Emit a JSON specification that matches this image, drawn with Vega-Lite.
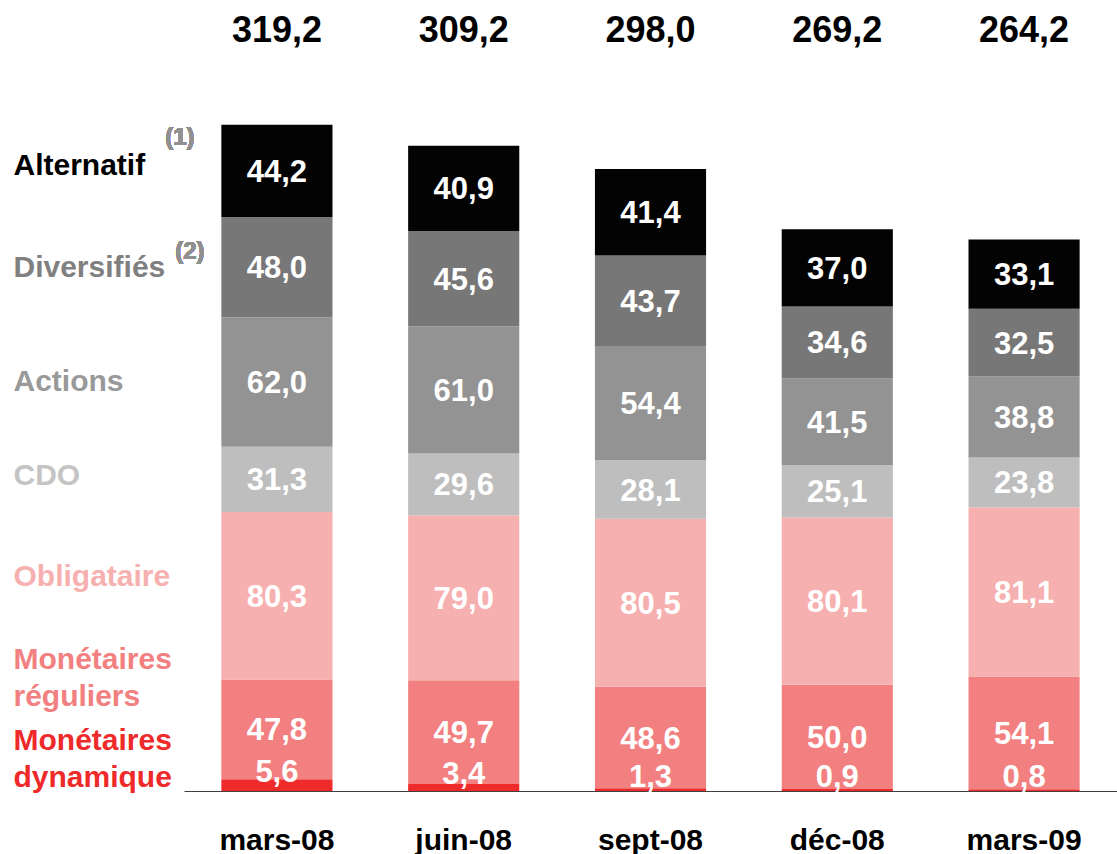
{
  "$schema": "https://vega.github.io/schema/vega-lite/v6.json",
  "width": 933,
  "height": 791,
  "autosize": {"type": "none"},
  "padding": {"left": 184, "top": 0, "right": 0, "bottom": 63},
  "config": {
    "font": "Liberation Sans",
    "view": {"stroke": null},
    "locale": {"number": {"decimal": ",", "thousands": ".", "grouping": [3], "currency": ["", " €"]}}
  },
  "data": {
    "values": [
      {"mois": "mars-08", "cat": "Monétaires dynamique", "v": 5.6},
      {"mois": "mars-08", "cat": "Monétaires réguliers", "v": 47.8},
      {"mois": "mars-08", "cat": "Obligataire", "v": 80.3},
      {"mois": "mars-08", "cat": "CDO", "v": 31.3},
      {"mois": "mars-08", "cat": "Actions", "v": 62.0},
      {"mois": "mars-08", "cat": "Diversifiés", "v": 48.0},
      {"mois": "mars-08", "cat": "Alternatif", "v": 44.2},
      {"mois": "juin-08", "cat": "Monétaires dynamique", "v": 3.4},
      {"mois": "juin-08", "cat": "Monétaires réguliers", "v": 49.7},
      {"mois": "juin-08", "cat": "Obligataire", "v": 79.0},
      {"mois": "juin-08", "cat": "CDO", "v": 29.6},
      {"mois": "juin-08", "cat": "Actions", "v": 61.0},
      {"mois": "juin-08", "cat": "Diversifiés", "v": 45.6},
      {"mois": "juin-08", "cat": "Alternatif", "v": 40.9},
      {"mois": "sept-08", "cat": "Monétaires dynamique", "v": 1.3},
      {"mois": "sept-08", "cat": "Monétaires réguliers", "v": 48.6},
      {"mois": "sept-08", "cat": "Obligataire", "v": 80.5},
      {"mois": "sept-08", "cat": "CDO", "v": 28.1},
      {"mois": "sept-08", "cat": "Actions", "v": 54.4},
      {"mois": "sept-08", "cat": "Diversifiés", "v": 43.7},
      {"mois": "sept-08", "cat": "Alternatif", "v": 41.4},
      {"mois": "déc-08", "cat": "Monétaires dynamique", "v": 0.9},
      {"mois": "déc-08", "cat": "Monétaires réguliers", "v": 50.0},
      {"mois": "déc-08", "cat": "Obligataire", "v": 80.1},
      {"mois": "déc-08", "cat": "CDO", "v": 25.1},
      {"mois": "déc-08", "cat": "Actions", "v": 41.5},
      {"mois": "déc-08", "cat": "Diversifiés", "v": 34.6},
      {"mois": "déc-08", "cat": "Alternatif", "v": 37.0},
      {"mois": "mars-09", "cat": "Monétaires dynamique", "v": 0.8},
      {"mois": "mars-09", "cat": "Monétaires réguliers", "v": 54.1},
      {"mois": "mars-09", "cat": "Obligataire", "v": 81.1},
      {"mois": "mars-09", "cat": "CDO", "v": 23.8},
      {"mois": "mars-09", "cat": "Actions", "v": 38.8},
      {"mois": "mars-09", "cat": "Diversifiés", "v": 32.5},
      {"mois": "mars-09", "cat": "Alternatif", "v": 33.1}
    ]
  },
  "transform": [
    {"calculate": "indexof(['Monétaires dynamique','Monétaires réguliers','Obligataire','CDO','Actions','Diversifiés','Alternatif'], datum.cat)", "as": "k"},
    {"stack": "v", "groupby": ["mois"], "sort": [{"field": "k", "order": "ascending"}], "as": ["y0", "y1"]},
    {"calculate": "(datum.y0 + datum.y1) / 2", "as": "ym"}
  ],
  "encoding": {
    "x": {
      "field": "mois",
      "type": "nominal",
      "sort": ["mars-08", "juin-08", "sept-08", "déc-08", "mars-09"],
      "scale": {"paddingInner": 0.405, "paddingOuter": 0.2},
      "axis": {
        "title": null,
        "labelAngle": 0,
        "ticks": false,
        "tickSize": 0,
        "labelPadding": 34,
        "labelFontSize": 30,
        "labelFontWeight": "bold",
        "labelColor": "#000000",
        "domainColor": "#404040",
        "domainWidth": 1
      }
    }
  },
  "layer": [
    {
      "mark": {"type": "bar"},
      "encoding": {
        "y": {
          "field": "y0",
          "type": "quantitative",
          "scale": {"domain": [0, 379], "nice": false, "zero": true},
          "axis": {
            "title": null,
            "grid": false,
            "domain": false,
            "ticks": false,
            "tickSize": 0,
            "values": [24.4, 62.8, 103, 151.4, 196, 250.6, 299.5],
            "labelAlign": "left",
            "labelBaseline": "middle",
            "labelPadding": 171,
            "labelFontSize": 30,
            "labelFontWeight": "bold",
            "labelLineHeight": 37,
            "labelLimit": 400,
            "labelOverlap": false,
            "labelBound": false,
            "labelFlush": false,
            "labelExpr": "datum.value > 280 ? 'Alternatif' : datum.value > 230 ? 'Diversifiés' : datum.value > 170 ? 'Actions' : datum.value > 130 ? 'CDO' : datum.value > 80 ? 'Obligataire' : datum.value > 40 ? ['Monétaires', 'réguliers'] : ['Monétaires', 'dynamique']",
            "labelColor": {"expr": "datum.value > 280 ? '#000000' : datum.value > 230 ? '#808080' : datum.value > 170 ? '#999999' : datum.value > 130 ? '#c4c4c4' : datum.value > 80 ? '#f6b0b0' : datum.value > 40 ? '#f28080' : '#ee2a2a'"}
          }
        },
        "y2": {"field": "y1"},
        "color": {
          "field": "cat",
          "type": "nominal",
          "scale": {
            "domain": ["Monétaires dynamique", "Monétaires réguliers", "Obligataire", "CDO", "Actions", "Diversifiés", "Alternatif"],
            "range": ["#ee2a2a", "#f28080", "#f6b0b0", "#bebebe", "#939393", "#777777", "#030303"]
          },
          "legend": null
        }
      }
    },
    {
      "transform": [{"filter": "datum.cat != 'Monétaires dynamique'"}],
      "mark": {"type": "text", "color": "#ffffff", "fontSize": 31, "fontWeight": "bold", "baseline": "middle", "dy": 2},
      "encoding": {
        "y": {"field": "ym", "type": "quantitative"},
        "text": {"field": "v", "type": "quantitative", "format": ".1f"}
      }
    },
    {
      "transform": [{"filter": "datum.cat == 'Monétaires dynamique'"}],
      "mark": {"type": "text", "color": "#ffffff", "fontSize": 31, "fontWeight": "bold", "baseline": "middle", "dy": -12},
      "encoding": {
        "y": {"field": "ym", "type": "quantitative"},
        "text": {"field": "v", "type": "quantitative", "format": ".1f"}
      }
    },
    {
      "transform": [{"aggregate": [{"op": "sum", "field": "v", "as": "total"}], "groupby": ["mois"]}],
      "mark": {"type": "text", "color": "#000000", "fontSize": 36, "fontWeight": "bold", "baseline": "middle"},
      "encoding": {
        "y": {"datum": 364.2, "type": "quantitative"},
        "text": {"field": "total", "type": "quantitative", "format": ".1f"}
      }
    },
    {
      "mark": {"type": "text", "text": "(1)", "color": "#909090", "fontSize": 24, "fontWeight": "bold", "baseline": "middle", "align": "center", "dx": -97},
      "encoding": {
        "x": {"datum": "mars-08"},
        "y": {"datum": 312.9, "type": "quantitative"}
      }
    },
    {
      "mark": {"type": "text", "text": "(2)", "color": "#909090", "fontSize": 24, "fontWeight": "bold", "baseline": "middle", "align": "center", "dx": -87},
      "encoding": {
        "x": {"datum": "mars-08"},
        "y": {"datum": 258.3, "type": "quantitative"}
      }
    }
  ]
}
